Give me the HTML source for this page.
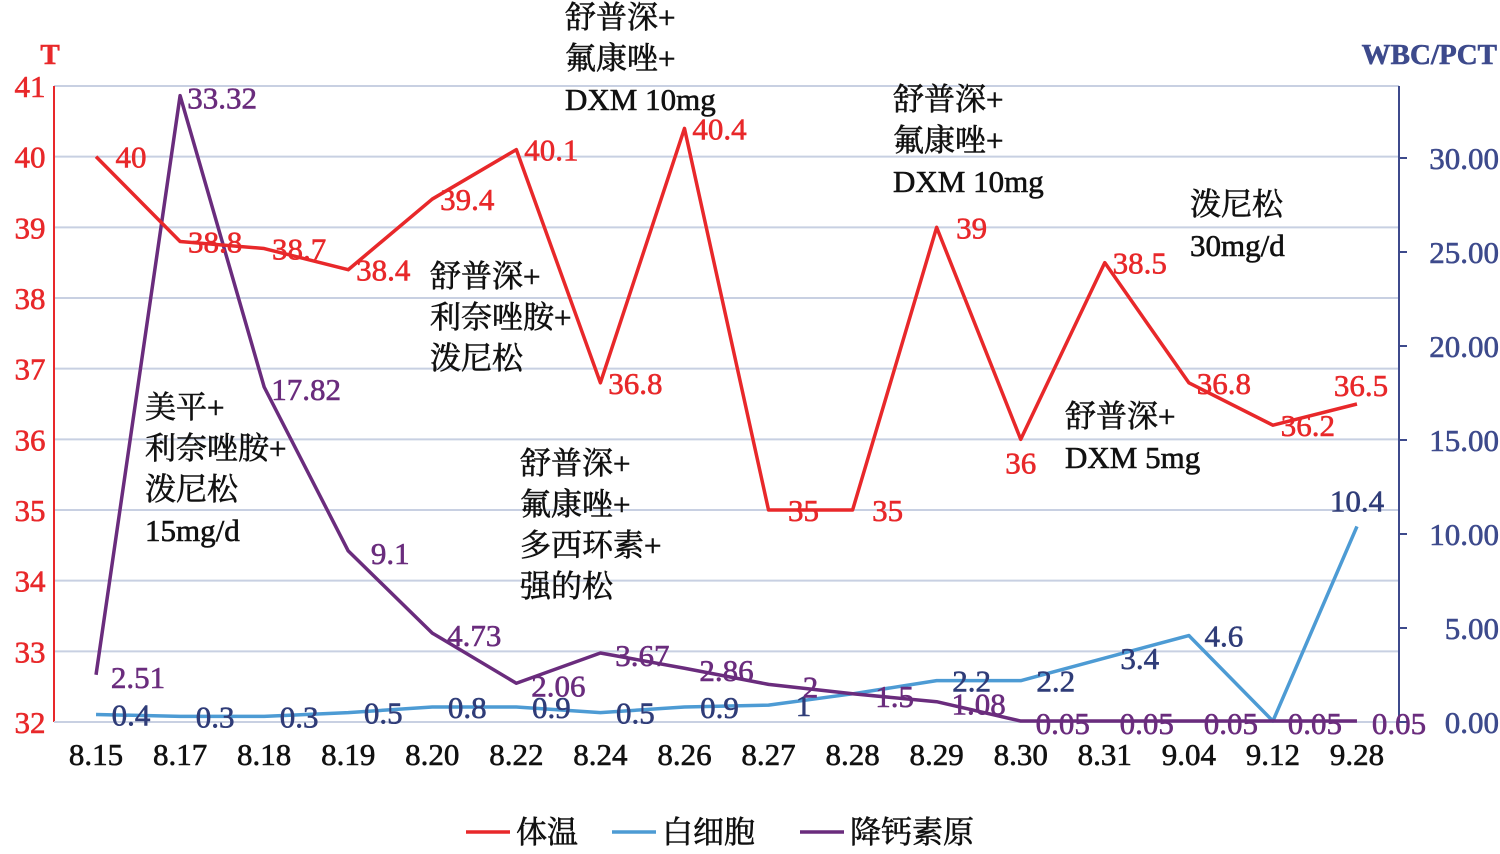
<!DOCTYPE html>
<html><head><meta charset="utf-8"><style>
html,body{margin:0;padding:0;background:#fff;}
svg text{font-family:"Liberation Serif","Noto Serif CJK SC",serif;stroke-width:0.6;paint-order:stroke;}
</style></head><body>
<svg id="chart" width="1500" height="849" xmlns="http://www.w3.org/2000/svg"></svg>
<script>
const categories=["8.15","8.17","8.18","8.19","8.20","8.22","8.24","8.26","8.27","8.28","8.29","8.30","8.31","9.04","9.12","9.28"];
const tempValues=[40,38.8,38.7,38.4,39.4,40.1,36.8,40.4,35,35,39,36,38.5,36.8,36.2,36.5];
const wbcValues=[0.4,0.3,0.3,0.5,0.8,0.8,0.5,0.8,0.9,1.5,2.2,2.2,3.4,4.6,0.05,10.4];
const wbcLabels=["0.4","0.3","0.3","0.5","0.8","0.9","0.5","0.9","1","","2.2","2.2","3.4","4.6","","10.4"];
const pctValues=[2.51,33.32,17.82,9.1,4.73,2.06,3.67,2.86,2,1.5,1.08,0.05,0.05,0.05,0.05,0.05];
const pctLabels=["2.51","33.32","17.82","9.1","4.73","2.06","3.67","2.86","2","1.5","1.08","0.05","0.05","0.05","0.05","0.05"];
const leftTicks=[32,33,34,35,36,37,38,39,40,41];
const rightTicks=[0,5,10,15,20,25,30];
const rightTickLabels=["0.00","5.00","10.00","15.00","20.00","25.00","30.00"];

const svg=document.getElementById('chart');
const NS="http://www.w3.org/2000/svg";
const X0=54,X1=1399,Y0=722,Y1=86;
const bw=(X1-X0)/categories.length;
function x(i){return X0+bw*(i+0.5);}
function yL(v){return Y0-(v-32)/(41-32)*(Y0-Y1);}
function yR(v){return Y0-v/33.83*(Y0-Y1);}
function el(tag,attrs,parent){const e=document.createElementNS(NS,tag);for(const k in attrs)e.setAttribute(k,attrs[k]);(parent||svg).appendChild(e);return e;}
function txt(s,attrs,parent){if(attrs.fill&&!attrs.stroke)attrs.stroke=attrs.fill;const e=el('text',attrs,parent);e.textContent=s;return e;}

const grid=el('g',{});


leftTicks.forEach(t=>{el('line',{x1:X0,x2:X1,y1:yL(t),y2:yL(t),stroke:'#c8d0e2','stroke-width':2},grid);});

const la=el('g',{});


el('line',{x1:X0,x2:X0,y1:Y1,y2:Y0,stroke:'#e8282a','stroke-width':2},la);
leftTicks.forEach(t=>{txt(String(t),{x:30,y:yL(t)+11,'text-anchor':'middle','font-size':31,fill:'#e8282a'},la);});
const ra=el('g',{});


el('line',{x1:X1,x2:X1,y1:Y1,y2:Y0,stroke:'#3d4a8c','stroke-width':2},ra);
rightTicks.forEach((t,i)=>{el('line',{x1:X1,x2:X1+8,y1:yR(t),y2:yR(t),stroke:'#3d4a8c','stroke-width':2},ra);
txt(rightTickLabels[i],{x:1499,y:yR(t)+11,'text-anchor':'end','font-size':31,fill:'#3d4a8c'},ra);});
const xa=el('g',{});


el('line',{x1:X0,x2:X1,y1:Y0,y2:Y0,stroke:'#c8d0e2','stroke-width':2},xa);
categories.forEach((c,i)=>{txt(c,{x:x(i),y:765,'text-anchor':'middle','font-size':31,fill:'#111'},xa);});

const t1=txt('T',{x:50,y:64,'text-anchor':'middle','font-size':29,fill:'#e8282a','font-weight':'bold'});


const t2=txt('WBC/PCT',{x:1497,y:64,'text-anchor':'end','font-size':29,fill:'#3d4a8c','font-weight':'bold'});



function series(vals,yf,color,name){
  const p=el('polyline',{points:vals.map((v,i)=>x(i)+','+yf(v)).join(' '),fill:'none',stroke:color,'stroke-width':3.5,'stroke-linejoin':'round'});
  
  
}
series(wbcValues,yR,'#4d9bd4','wbc-line');
series(pctValues,yR,'#6a2c7d','pct-line');
series(tempValues,yL,'#e8282a','temperature-line');

const tl=el('g',{});


tempValues.forEach((v,i)=>{const last=i===categories.length-1;const dy=(i===11)?34:(last?-8:11);const dx=(i===11)?0:(last?4:35);
txt(String(v),{x:x(i)+dx,y:yL(v)+dy,'text-anchor':'middle','font-size':31,fill:'#e8282a'},tl);});
const wl=el('g',{});


wbcValues.forEach((v,i)=>{const last=i===categories.length-1;
txt(wbcLabels[i],{x:x(i)+(last?0:35),y:yR(v)+(last?-15:11),'text-anchor':'middle','font-size':31,fill:'#2f3c78'},wl);});
const pl=el('g',{});


pctValues.forEach((v,i)=>{txt(pctLabels[i],{x:x(i)+42,y:yR(v)+13,'text-anchor':'middle','font-size':31,fill:'#6a2c7d'},pl);});

const notes=[
 [565,28,["舒普深+","氟康唑+","DXM 10mg"]],
 [893,110,["舒普深+","氟康唑+","DXM 10mg"]],
 [1190,215,["泼尼松","30mg/d"]],
 [430,287,["舒普深+","利奈唑胺+","泼尼松"]],
 [145,418,["美平+","利奈唑胺+","泼尼松","15mg/d"]],
 [520,474,["舒普深+","氟康唑+","多西环素+","强的松"]],
 [1065,427,["舒普深+","DXM 5mg"]]
];
notes.forEach(n=>{const g=el('g',{});


n[2].forEach((s,k)=>txt(s,{x:n[0],y:n[1]+k*41,'font-size':31,fill:'#111'},g));});

const legend=[[466,'#e8282a','体温'],[612,'#4d9bd4','白细胞'],[800,'#6a2c7d','降钙素原']];
legend.forEach(l=>{const g=el('g',{});


el('line',{x1:l[0],x2:l[0]+44,y1:832,y2:832,stroke:l[1],'stroke-width':3.5},g);
txt(l[2],{x:l[0]+50,y:843,'font-size':31,fill:'#111'},g);});
</script>
</body></html>
